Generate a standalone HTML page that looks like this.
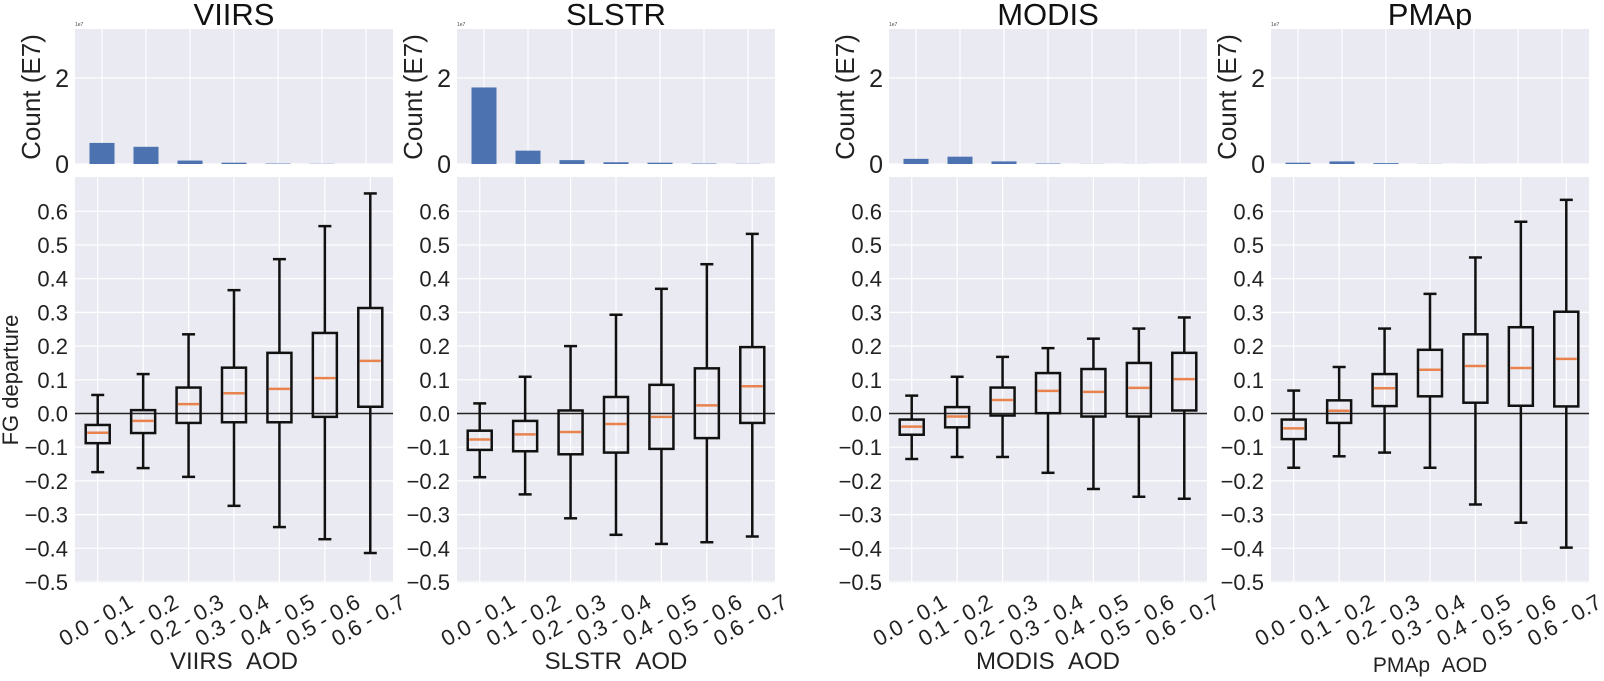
<!DOCTYPE html>
<html><head><meta charset="utf-8"><style>
html,body{margin:0;padding:0;background:#fff;}
svg{display:block;font-family:"Liberation Sans",Arial,sans-serif;}
</style></head><body>
<svg id="fig" width="1604" height="681" viewBox="0 0 1604 681" xmlns="http://www.w3.org/2000/svg"></svg>
<script>
const categories = ["0.0 - 0.1","0.1 - 0.2","0.2 - 0.3","0.3 - 0.4","0.4 - 0.5","0.5 - 0.6","0.6 - 0.7"];
const instruments = ["VIIRS","SLSTR","MODIS","PMAp"];
const boxTicks = [-0.5,-0.4,-0.3,-0.2,-0.1,0.0,0.1,0.2,0.3,0.4,0.5,0.6];
const histTicks = [0,2];
// counts in units of 1e7
const countsVIIRS = [0.49,0.40,0.08,0.03,0.01,0.005,0];
const countsSLSTR = [1.78,0.31,0.09,0.04,0.03,0.01,0.005];
const countsMODIS = [0.12,0.17,0.06,0.01,0.003,0.002,0];
const countsPMAp  = [0.03,0.06,0.02,0.003,0.001,0,0];
// box stats: whisker low, Q1, median, Q3, whisker high
const lowVIIRS = [-0.174,-0.162,-0.188,-0.274,-0.337,-0.373,-0.414];
const q1VIIRS  = [-0.088,-0.058,-0.028,-0.026,-0.026,-0.010,0.020];
const medVIIRS = [-0.057,-0.022,0.028,0.060,0.073,0.105,0.156];
const q3VIIRS  = [-0.034,0.010,0.077,0.136,0.180,0.239,0.313];
const highVIIRS= [0.055,0.117,0.235,0.366,0.458,0.556,0.653];
const lowSLSTR = [-0.189,-0.240,-0.311,-0.360,-0.387,-0.382,-0.365];
const q1SLSTR  = [-0.108,-0.112,-0.121,-0.116,-0.105,-0.073,-0.028];
const medSLSTR = [-0.077,-0.062,-0.055,-0.031,-0.010,0.024,0.081];
const q3SLSTR  = [-0.051,-0.022,0.009,0.049,0.085,0.134,0.197];
const highSLSTR= [0.030,0.109,0.200,0.293,0.370,0.443,0.533];
const lowMODIS = [-0.135,-0.129,-0.129,-0.176,-0.224,-0.247,-0.253];
const q1MODIS  = [-0.063,-0.041,-0.006,0.001,-0.009,-0.009,0.009];
const medMODIS = [-0.039,-0.009,0.040,0.067,0.064,0.076,0.102];
const q3MODIS  = [-0.018,0.019,0.077,0.120,0.132,0.150,0.180];
const highMODIS= [0.053,0.109,0.168,0.194,0.222,0.252,0.285];
const lowPMAp  = [-0.161,-0.127,-0.116,-0.161,-0.270,-0.324,-0.398];
const q1PMAp   = [-0.076,-0.028,0.022,0.051,0.032,0.023,0.021];
const medPMAp  = [-0.044,0.008,0.075,0.130,0.141,0.135,0.162];
const q3PMAp   = [-0.018,0.039,0.117,0.189,0.235,0.256,0.302];
const highPMAp = [0.068,0.138,0.252,0.355,0.463,0.569,0.634];

const countsAll=[countsVIIRS,countsSLSTR,countsMODIS,countsPMAp];
const lowAll=[lowVIIRS,lowSLSTR,lowMODIS,lowPMAp];
const q1All=[q1VIIRS,q1SLSTR,q1MODIS,q1PMAp];
const medAll=[medVIIRS,medSLSTR,medMODIS,medPMAp];
const q3All=[q3VIIRS,q3SLSTR,q3MODIS,q3PMAp];
const highAll=[highVIIRS,highSLSTR,highMODIS,highPMAp];

const svg=document.getElementById('fig');
const NS="http://www.w3.org/2000/svg";
function mk(tag,attrs,parent){const e=document.createElementNS(NS,tag);for(const k in attrs)e.setAttribute(k,attrs[k]);(parent||svg).appendChild(e);return e;}

const lefts=[75,457,889,1271];
const W=318;
const hTop=29,hBot=164,bTop=177,bBot=583;
const yBox=v=>413.5-v*337;
const yHist=v=>hBot-v*43;

instruments.forEach((name,p)=>{
  const L=lefts[p];
  const g=mk('g',{});
  
  
  const xBox=i=>L+(i+0.5)*W/7;
  const xHist=i=>L+27+i*44;
  const t=mk('text',{x:L+W/2,y:25,'text-anchor':'middle','font-size':31,fill:'#111'},g);
  t.textContent=name;
  
  
  const hb=mk('rect',{x:L,y:hTop,width:W,height:hBot-hTop,fill:'#eaeaf2'},g);
  
  
  categories.forEach((c,i)=>{mk('line',{x1:xHist(i),x2:xHist(i),y1:hTop,y2:hBot,stroke:'#fff','stroke-width':1.2},g);});
  histTicks.forEach(v=>{
    mk('line',{x1:L,x2:L+W,y1:yHist(v),y2:yHist(v),stroke:'#fff','stroke-width':1.2},g);
    const tl=mk('text',{x:L-6,y:yHist(v)+9,'text-anchor':'end','font-size':25,fill:'#222'},g);
    tl.textContent=String(v);
    
    
  });
  const e7=mk('text',{x:L,y:hTop-3,'font-size':5,fill:'#444'},g);e7.textContent='1e7';
  
  
  const cl=mk('text',{transform:`translate(${L-35},97) rotate(-90)`,'text-anchor':'middle','font-size':26,fill:'#222'},g);
  cl.textContent='Count (E7)';
  
  
  countsAll[p].forEach((v,i)=>{
    const h=Math.max(0,v*43);
    const r=mk('rect',{x:xHist(i)-12.5,y:yHist(v),width:25,height:h,fill:'#4c72b0'},g);
    
    
  });
  const bb=mk('rect',{x:L,y:bTop,width:W,height:bBot-bTop,fill:'#eaeaf2'},g);
  
  
  categories.forEach((c,i)=>{mk('line',{x1:xBox(i),x2:xBox(i),y1:bTop,y2:bBot,stroke:'#fff','stroke-width':1.2},g);});
  boxTicks.forEach(v=>{
    mk('line',{x1:L,x2:L+W,y1:yBox(v),y2:yBox(v),stroke:'#fff','stroke-width':1.2},g);
    const tl=mk('text',{x:L-7,y:yBox(v)+8,'text-anchor':'end','font-size':22,fill:'#222'},g);
    tl.textContent=(v<0?'\u2212':'')+Math.abs(v).toFixed(1);
    
    
  });
  mk('line',{x1:L,x2:L+W,y1:yBox(0),y2:yBox(0),stroke:'#222','stroke-width':1.5},g);
  categories.forEach((c,i)=>{
    const x=xBox(i),bw=24,cw=13;
    const bg=mk('g',{},g);
    
    
    const lo=lowAll[p][i],q1=q1All[p][i],md=medAll[p][i],q3=q3All[p][i],hi=highAll[p][i];
    mk('line',{x1:x,x2:x,y1:yBox(hi),y2:yBox(q3),stroke:'#111','stroke-width':2.5},bg);
    mk('line',{x1:x,x2:x,y1:yBox(q1),y2:yBox(lo),stroke:'#111','stroke-width':2.5},bg);
    mk('line',{x1:x-cw/2,x2:x+cw/2,y1:yBox(hi),y2:yBox(hi),stroke:'#111','stroke-width':2.5},bg);
    mk('line',{x1:x-cw/2,x2:x+cw/2,y1:yBox(lo),y2:yBox(lo),stroke:'#111','stroke-width':2.5},bg);
    mk('rect',{x:x-bw/2,y:yBox(q3),width:bw,height:yBox(q1)-yBox(q3),fill:'none',stroke:'#111','stroke-width':2.5},bg);
    mk('line',{x1:x-bw/2+1.5,x2:x+bw/2-1.5,y1:yBox(md),y2:yBox(md),stroke:'#e8834e','stroke-width':2.5},bg);
    const tl=mk('text',{transform:`translate(${x-2},620) rotate(-30)`,'text-anchor':'middle','font-size':22,fill:'#222',dy:'0.35em'},g);
    tl.textContent=c;
    
    
  });
  const xl=mk('text',{x:L+W/2,y:p===3?672:669,'text-anchor':'middle','font-size':p===3?21:24,fill:'#222'},g);
  xl.textContent=name+'\u00a0\u00a0AOD';
  
  
});
const fy=mk('text',{transform:'translate(18,380) rotate(-90)','text-anchor':'middle','font-size':22,fill:'#222'});
fy.textContent='FG departure';


</script>
</body></html>
